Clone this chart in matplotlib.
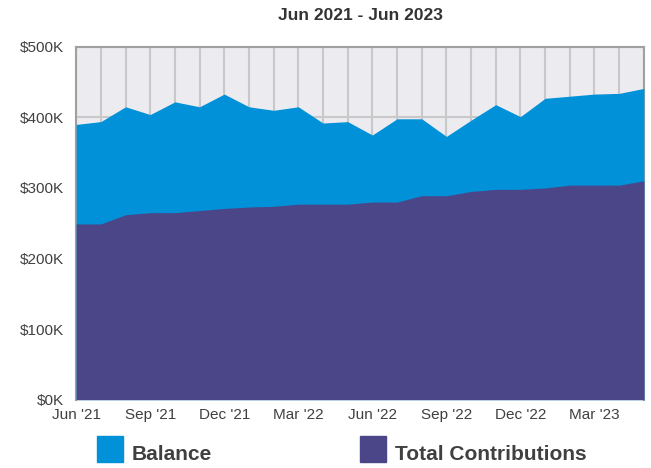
import matplotlib.pyplot as plt
from matplotlib.patches import Rectangle
from matplotlib.ticker import FuncFormatter

plt.rcParams['font.family'] = ['Liberation Sans', 'DejaVu Sans']

# Monthly values, Jun '21 .. May '23 (in $K)
months = ["Jun '21", "Jul '21", "Aug '21", "Sep '21", "Oct '21", "Nov '21",
          "Dec '21", "Jan '22", "Feb '22", "Mar '22", "Apr '22", "May '22",
          "Jun '22", "Jul '22", "Aug '22", "Sep '22", "Oct '22", "Nov '22",
          "Dec '22", "Jan '23", "Feb '23", "Mar '23", "Apr '23", "May '23"]
balance = [390, 394, 415, 404, 422, 415, 433, 415, 410, 415, 392, 394,
           375, 398, 398, 373, 396, 418, 401, 427, 430, 433, 434, 441]
contributions = [249, 249, 262, 265, 265, 268, 271, 273, 274, 277, 277, 277,
                 280, 280, 289, 289, 295, 298, 298, 300, 304, 304, 304, 310]
yticks = [0, 100, 200, 300, 400, 500]

BLUE = '#0091d9'
PURPLE = '#4b4687'
TEXT = '#404040'

fig = plt.figure(figsize=(6.51, 4.68), dpi=100)
ax = fig.add_axes([0.117, 0.146, 0.872, 0.754])
ax.set_facecolor('#ebebf0')

x = list(range(len(months)))
ax.fill_between(x, 0, balance, color=BLUE, linewidth=0, zorder=3)
ax.fill_between(x, 0, contributions, color=PURPLE, linewidth=0, zorder=4)

ax.set_xlim(0, len(months) - 1)
ax.set_ylim(0, 500)
ax.set_xticks(x[::3])
ax.set_xticklabels(months[::3])
ax.set_xticks(x, minor=True)
ax.set_yticks(yticks)
ax.yaxis.set_major_formatter(FuncFormatter(lambda v, p: f'${int(v)}K'))

ax.grid(True, which='both', axis='x', color='#c8c8c8', linewidth=1.5, zorder=1)
ax.grid(True, which='major', axis='y', color='#c8c8c8', linewidth=1.5, zorder=1)
ax.set_axisbelow(True)

ax.tick_params(axis='both', which='both', length=0, labelsize=11, labelcolor=TEXT)
ax.tick_params(axis='x', pad=6)
ax.tick_params(axis='y', pad=9)
for s in ax.spines.values():
    s.set_color('#a0a0a0')
    s.set_linewidth(1.5)
ax.spines['bottom'].set_visible(False)

ax.set_title('Jun 2021 - Jun 2023', fontsize=12.5, fontweight='bold',
             color='#333333', pad=19)

# legend drawn by hand below the axes
fw, fh = 651, 468
for x0, col, label in [(97, BLUE, 'Balance'), (360, PURPLE, 'Total Contributions')]:
    fig.add_artist(Rectangle((x0 / fw, 1 - 462 / fh), 26 / fw, 26 / fh,
                             transform=fig.transFigure, color=col))
    fig.text((x0 + 35) / fw, 1 - 454 / fh, label, fontsize=15,
             fontweight='bold', color=TEXT, va='center', ha='left')

plt.savefig('out.png', dpi=100)
